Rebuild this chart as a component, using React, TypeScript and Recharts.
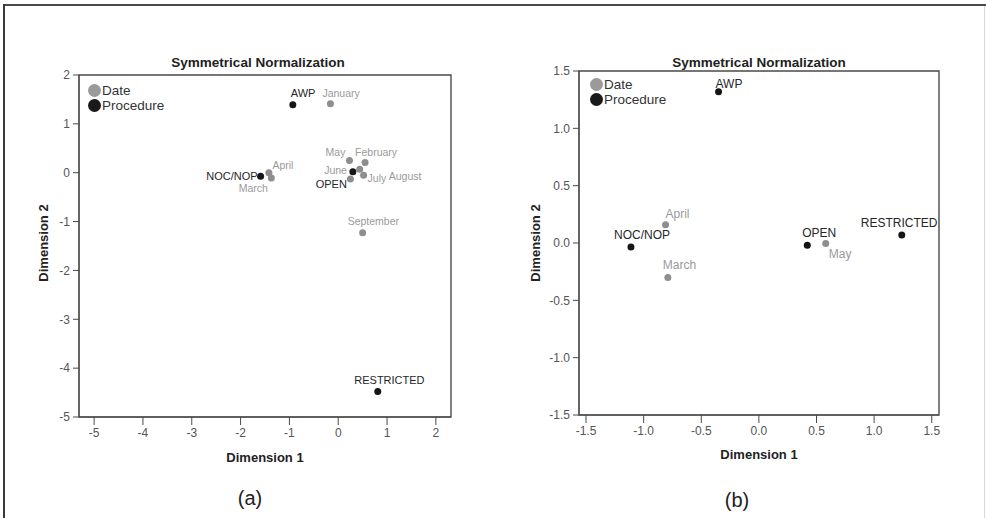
import React from "react";
import { ScatterChart, Scatter, XAxis, YAxis, ReferenceArea } from "recharts";

// ---------- Data: panel (a) ----------
const aDateNames = ["January", "February", "March", "April", "May", "June", "July", "August", "September"];
const aDateX = [-0.16, 0.55, -1.37, -1.42, 0.23, 0.25, 0.52, 0.44, 0.5];
const aDateY = [1.41, 0.21, -0.11, 0.0, 0.25, -0.13, -0.05, 0.07, -1.23];
const aProcNames = ["AWP", "NOC/NOP", "OPEN", "RESTRICTED"];
const aProcX = [-0.93, -1.59, 0.3, 0.81];
const aProcY = [1.39, -0.07, 0.02, -4.48];
const aXTicks = [-5, -4, -3, -2, -1, 0, 1, 2];
const aYTicks = [-5, -4, -3, -2, -1, 0, 1, 2];

// ---------- Data: panel (b) ----------
const bDateNames = ["March", "April", "May"];
const bDateX = [-0.79, -0.81, 0.58];
const bDateY = [-0.3, 0.16, -0.005];
const bProcNames = ["AWP", "NOC/NOP", "OPEN", "RESTRICTED"];
const bProcX = [-0.35, -1.11, 0.42, 1.24];
const bProcY = [1.32, -0.035, -0.02, 0.07];
const bXTicks = [-1.5, -1.0, -0.5, 0.0, 0.5, 1.0, 1.5];
const bYTicks = [-1.5, -1.0, -0.5, 0.0, 0.5, 1.0, 1.5];

const titleText = "Symmetrical Normalization";
const legendNames = ["Date", "Procedure"];

// ---------- label placement (style, not data) ----------
type Place = [number, number, "start" | "end" | "middle"];
const aPlace: Record<string, Place> = {
  January: [-8, -11, "start"],
  February: [-10, -10.5, "start"],
  March: [-3.5, 9.5, "end"],
  April: [3.5, -8, "start"],
  May: [-4, -9, "end"],
  June: [-3.5, -9, "end"],
  July: [4, 2.5, "start"],
  August: [29, 6.5, "start"],
  September: [-15, -12, "start"],
  AWP: [-2, -11.5, "start"],
  "NOC/NOP": [-3, 0, "end"],
  OPEN: [-6, 12, "end"],
  RESTRICTED: [-23.5, -11.5, "start"],
};
const bPlace: Record<string, Place> = {
  March: [-5, -12, "start"],
  April: [0, -11, "start"],
  May: [3, 10, "start"],
  AWP: [-3, -8, "start"],
  "NOC/NOP": [-17, -12, "start"],
  OPEN: [-5, -12, "start"],
  RESTRICTED: [-41, -12, "start"],
};

const FONT = "Arial, 'Liberation Sans', Helvetica, sans-serif";
const DOT_GRAY = "#8e8e8e";
const TEXT_GRAY = "#9a9a9a";
const DOT_BLACK = "#151515";
const TEXT_BLACK = "#262626";
const AXIS = "#4a4a4a";
const TICK_TEXT = "#555";

const zip = (names: string[], xs: number[], ys: number[]) =>
  names.map((name, i) => ({ name, x: xs[i], y: ys[i] }));

const makeShape = (
  place: Record<string, Place>,
  dotColor: string,
  textColor: string,
  fontSize: number
) => (props: any) => {
  const { cx, cy, payload } = props;
  const p = place[payload.name] || [5, 0, "start"];
  return (
    <g>
      <circle cx={cx} cy={cy} r={3.5} fill={dotColor} />
      <text
        x={cx + p[0]}
        y={cy + p[1]}
        textAnchor={p[2]}
        dominantBaseline="central"
        fontSize={fontSize}
        fontFamily={FONT}
        fill={textColor}
      >
        {payload.name}
      </text>
    </g>
  );
};

type PanelProps = {
  left: number;
  dateData: { name: string; x: number; y: number }[];
  procData: { name: string; x: number; y: number }[];
  xDomain: [number, number];
  yDomain: [number, number];
  xTicks: number[];
  yTicks: number[];
  fmt: (v: number) => string;
  margin: { top: number; right: number; bottom: number; left: number };
  place: Record<string, Place>;
  dateFont: number;
  procFont: number;
};

const Panel = (p: PanelProps) => (
  <div style={{ position: "absolute", left: p.left, top: 0 }}>
    <ScatterChart width={493} height={518} margin={p.margin}>
      <XAxis
        type="number"
        dataKey="x"
        domain={p.xDomain}
        ticks={p.xTicks}
        allowDataOverflow
        tickFormatter={p.fmt}
        height={30}
        tickSize={8}
        tickMargin={3}
        stroke={AXIS}
        tick={{ fill: TICK_TEXT, fontSize: 12, fontFamily: FONT }}
        interval={0}
      />
      <YAxis
        type="number"
        dataKey="y"
        domain={p.yDomain}
        ticks={p.yTicks}
        allowDataOverflow
        tickFormatter={p.fmt}
        width={40}
        tickSize={6}
        tickMargin={3}
        stroke={AXIS}
        tick={{ fill: TICK_TEXT, fontSize: 12, fontFamily: FONT }}
        interval={0}
      />
      <ReferenceArea
        x1={p.xDomain[0]}
        x2={p.xDomain[1]}
        y1={p.yDomain[0]}
        y2={p.yDomain[1]}
        fill="none"
        fillOpacity={0}
        stroke={AXIS}
        strokeWidth={1.4}
        ifOverflow="visible"
      />
      <Scatter
        data={p.dateData}
        isAnimationActive={false}
        shape={makeShape(p.place, DOT_GRAY, TEXT_GRAY, p.dateFont)}
      />
      <Scatter
        data={p.procData}
        isAnimationActive={false}
        shape={makeShape(p.place, DOT_BLACK, TEXT_BLACK, p.procFont)}
      />
    </ScatterChart>
  </div>
);

const abs = (l: number, t: number, extra: React.CSSProperties = {}): React.CSSProperties => ({
  position: "absolute",
  left: l,
  top: t,
  fontFamily: FONT,
  whiteSpace: "nowrap",
  lineHeight: 1,
  ...extra,
});

const Legend = ({ left, top }: { left: number; top: number }) => (
  <>
    {legendNames.map((n, i) => (
      <div key={n} style={abs(left, top + i * 15, { display: "flex", alignItems: "center", fontSize: 13.5, color: "#333" })}>
        <span
          style={{
            display: "inline-block",
            width: 13,
            height: 13,
            borderRadius: "50%",
            background: i === 0 ? "#9a9a9a" : "#1a1a1a",
            marginRight: 1,
          }}
        />
        <span>{n}</span>
      </div>
    ))}
  </>
);

const CenterText = ({ x, y, text, size, bold, color, rotate }: any) => (
  <div
    style={abs(x, y, {
      transform: `translate(-50%, -50%)${rotate ? " rotate(-90deg)" : ""}`,
      fontSize: size,
      fontWeight: bold ? "bold" : "normal",
      color,
    })}
  >
    {text}
  </div>
);

export default function App() {
  const fmtA = (v: number) => String(v);
  const fmtB = (v: number) => v.toFixed(1);
  return (
    <div style={{ position: "relative", width: 986, height: 518, background: "#fff", overflow: "hidden" }}>
      <style>{`body{margin:0;}`}</style>
      {/* frame lines */}
      <div style={{ position: "absolute", left: 3, top: 4, width: 983, height: 2, background: "#4a4a4a" }} />
      <div style={{ position: "absolute", left: 3, top: 4, width: 2, height: 514, background: "#3a3a3a" }} />
      <div style={{ position: "absolute", left: 984, top: 6, width: 1, height: 512, background: "#d8d8d8" }} />

      <Panel
        left={0}
        dateData={zip(aDateNames, aDateX, aDateY)}
        procData={zip(aProcNames, aProcX, aProcY)}
        xDomain={[-5.31, 2.31]}
        yDomain={[-5, 2]}
        xTicks={aXTicks}
        yTicks={aYTicks}
        fmt={fmtA}
        margin={{ top: 75, right: 42, bottom: 71, left: 39 }}
        place={aPlace}
        dateFont={10.5}
        procFont={11}
      />
      <Panel
        left={493}
        dateData={zip(bDateNames, bDateX, bDateY)}
        procData={zip(bProcNames, bProcX, bProcY)}
        xDomain={[-1.561, 1.563]}
        yDomain={[-1.5, 1.5]}
        xTicks={bXTicks}
        yTicks={bYTicks}
        fmt={fmtB}
        margin={{ top: 71, right: 47, bottom: 73, left: 46 }}
        place={bPlace}
        dateFont={12}
        procFont={12}
      />

      <CenterText x={258} y={63} text={titleText} size={13.5} bold color="#222" />
      <CenterText x={759} y={63} text={titleText} size={13.5} bold color="#222" />
      <Legend left={88} top={84} />
      <Legend left={590} top={78} />
      <CenterText x={43} y={243} text="Dimension 2" size={13} bold color="#222" rotate />
      <CenterText x={535} y={243} text="Dimension 2" size={13} bold color="#222" rotate />
      <CenterText x={265} y={457} text="Dimension 1" size={13} bold color="#222" />
      <CenterText x={759} y={454} text="Dimension 1" size={13} bold color="#222" />
      <CenterText x={250} y={498} text="(a)" size={20} color="#222" />
      <CenterText x={737} y={500} text="(b)" size={20} color="#222" />
    </div>
  );
}
